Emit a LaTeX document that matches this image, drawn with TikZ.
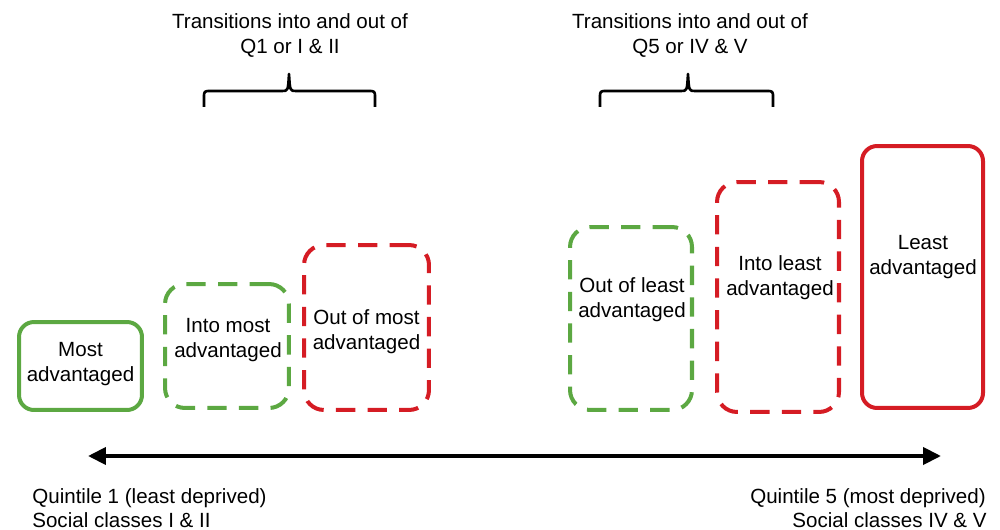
\documentclass[tikz,border=0pt]{standalone}
\usepackage{fontspec}
\setmainfont{Liberation Sans}
\usetikzlibrary{arrows.meta}
\definecolor{boxgreen}{RGB}{92,168,66}
\definecolor{boxred}{RGB}{213,28,36}
\tikzset{
  px/.style={x=0.02cm,y=-0.02cm},
  boxbase/.style={rectangle,inner sep=0pt,line width=2.28pt,fill=none},
  solidgreen/.style={boxbase,draw=boxgreen,rounded corners=0.3cm},
  solidred/.style={boxbase,draw=boxred,rounded corners=0.3cm},
  dashgreen/.style={boxbase,draw=boxgreen,rounded corners=0.4cm,dash pattern=on 11pt off 7pt},
  dashred/.style={boxbase,draw=boxred,rounded corners=0.4cm,dash pattern=on 11pt off 7pt},
  lbl/.style={align=center,inner sep=0pt,font=\fontsize{11.7}{14.2}\selectfont},
  plain/.style={inner sep=0pt,font=\fontsize{11.7}{14.2}\selectfont},
  bracestyle/.style={line width=1.5pt,line join=round},
  axis/.style={line width=2.3pt,{Triangle[length=0.36cm,width=0.34cm]}-{Triangle[length=0.36cm,width=0.34cm]}}
}
\begin{document}
\begin{tikzpicture}[px]
\useasboundingbox (0,0) rectangle (1000,530);
% boxes
\node[solidgreen,minimum width=2.46cm,minimum height=1.76cm] (b1) at (80.5,366) {};
\node[dashgreen,minimum width=2.48cm,minimum height=2.48cm] (b2) at (227,346) {};
\node[dashred,minimum width=2.5cm,minimum height=3.3cm] (b3) at (366.5,327.5) {};
\node[dashgreen,minimum width=2.44cm,minimum height=3.66cm] (b4) at (631,318.5) {};
\node[dashred,minimum width=2.44cm,minimum height=4.6cm] (b5) at (778,297) {};
\node[solidred,minimum width=2.42cm,minimum height=5.24cm] (b6) at (922.5,277) {};
% box labels
\node[lbl] (t1) at (80.5,364) {Most\\advantaged};
\node[lbl] (t2) at (228,340) {Into most\\advantaged};
\node[lbl] (t3) at (366.5,332) {Out of most\\advantaged};
\node[lbl] (t4) at (632,300) {Out of least\\advantaged};
\node[lbl] (t5) at (780,278) {Into least\\advantaged};
\node[lbl] (t6) at (923,257) {Least\\advantaged};
% axis
\coordinate (la) at (88,456);
\coordinate (ra) at (941,456);
\draw[axis] (la) -- (ra);
% bottom texts
\node[plain,anchor=base west] (q1) at (32,503) {Quintile 1 (least deprived)};
\node[plain,anchor=base west] (s1) at (32,527) {Social classes I \& II};
\node[plain,anchor=base east] (q5) at (986,503) {Quintile 5 (most deprived)};
\node[plain,anchor=base east] (s5) at (987,527) {Social classes IV \& V};
% titles
\node[plain,anchor=base] (h1) at (290,29) {Transitions into and out of};
\node[plain,anchor=base] (h1b) at (290,54) {Q1 or I \& II};
\node[plain,anchor=base] (h2) at (690,29) {Transitions into and out of};
\node[plain,anchor=base] (h2b) at (690,54) {Q5 or IV \& V};
% braces
\coordinate (lb) at (204,107);
\coordinate (lt) at (289,74);
\coordinate (le) at (375,107);
\draw[bracestyle] (lb) -- (204,98) .. controls (204,91) .. (211,91) -- (282,91) .. controls (288,91) .. (lt) .. controls (290,91) .. (296,91) -- (368,91) .. controls (375,91) .. (375,98) -- (le);
\coordinate (rb) at (600,107);
\coordinate (rt) at (688,74);
\coordinate (re) at (773,107);
\draw[bracestyle] (rb) -- (600,98) .. controls (600,91) .. (607,91) -- (681,91) .. controls (687,91) .. (rt) .. controls (689,91) .. (695,91) -- (766,91) .. controls (773,91) .. (773,98) -- (re);
\end{tikzpicture}
\end{document}
